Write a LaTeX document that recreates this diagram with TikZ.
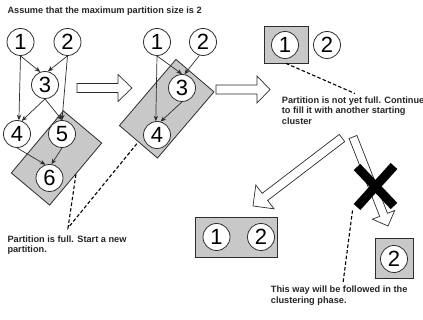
\documentclass[tikz,border=0pt]{standalone}
\usepackage{fontspec}
\setmainfont{Liberation Sans}
\usetikzlibrary{arrows.meta,calc}

\definecolor{boxgrey}{RGB}{200,200,200}
\definecolor{inkgrey}{RGB}{45,45,45}

\tikzset{
  cl/.style={circle, draw=inkgrey, line width=0.8pt, fill=white,
    minimum size=27pt, inner sep=0pt, font=\fontsize{22}{22}\selectfont},
  partbox/.style={draw=inkgrey, fill=boxgrey, line width=0.8pt, inner sep=0pt},
  edge/.style={draw=inkgrey, line width=0.7pt, -{Stealth[length=5.5pt,width=4.5pt]}},
  note/.style={font=\bfseries\fontsize{9.2}{10.3}\selectfont, text=black!85,
    align=left, anchor=north west, inner sep=0pt},
  lead/.style={draw=black, line width=1.1pt, dash pattern=on 3.5pt off 2.2pt},
  harrow/.style={draw=inkgrey, line width=0.7pt, fill=white, line join=miter},
  cross/.style={draw=black, line width=9pt}
}

% hollow block arrow: tail, tip, shaft half width, head half width, head length
\newcommand\blockarrow[5]{%
  \coordinate (ba-base) at ($(#2)!#5!(#1)$);
  \draw[harrow] ($(#1)!#3!90:(#2)$) -- ($(ba-base)!#3!90:(#2)$)
    -- ($(ba-base)!#4!90:(#2)$) -- (#2) -- ($(ba-base)!#4!-90:(#2)$)
    -- ($(ba-base)!#3!-90:(#2)$) -- ($(#1)!#3!-90:(#2)$) -- cycle;
}

\begin{document}
\begin{tikzpicture}[x=1pt, y=-1pt]
\useasboundingbox[fill=white] (0,0) rectangle (423,320);

% title
\node[note, anchor=base west] (title) at (7.3,13.5) {Assume that the maximum partition size is 2};

% ---- first stage: full graph, partition {5,6} ----
\node[partbox, minimum width=50pt, minimum height=81pt, rotate=-40] (pL) at (56.5,158) {};
\node[cl] (L1) at (20.5,42) {1};
\node[cl] (L2) at (67.5,42) {2};
\node[cl] (L3) at (45,85) {3};
\node[cl] (L4) at (17,134) {4};
\node[cl] (L5) at (62,134) {5};
\node[cl] (L6) at (49.5,178) {6};
\draw[edge] (L1.south) -- (L3.110);
\draw[edge] (L2.south) -- (L3.78);
\draw[edge] (L1.south) -- (L4.82);
\draw[edge] (L3.south) -- (L4.70);
\draw[edge] (L2.south) -- (L5.north);
\draw[edge] (L3.south) -- (L5.north);
\draw[edge] (L4.south) -- (L6.107);
\draw[edge] (L5.south) -- (L6.82);

% ---- second stage: remaining graph, partition {3,4} ----
\node[partbox, minimum width=50pt, minimum height=87pt, rotate=-40.5] (pM) at (166.7,108.7) {};
\node[cl] (M1) at (157,42) {1};
\node[cl] (M2) at (203,42) {2};
\node[cl] (M3) at (182,88) {3};
\node[cl] (M4) at (157,135) {4};
\draw[edge] (M1.south) -- (M3.north);
\draw[edge] (M2.255) -- (M3.80);
\draw[edge] (M1.south) -- (M4.95);
\draw[edge] (M3.south) -- (M4.75);

% ---- third stage: partition {1} not yet full ----
\node[partbox, minimum width=44pt, minimum height=37pt] (sq1) at (286,44.5) {};
\node[cl] (R1) at (285,45) {1};
\node[cl] (R2) at (327,45) {2};

% ---- outcomes ----
\node[partbox, minimum width=82pt, minimum height=40pt] (bx) at (236,237) {};
\node[cl] (B1) at (216.5,237) {1};
\node[cl] (B2) at (261,237) {2};

\node[partbox, minimum width=38pt, minimum height=40pt] (by) at (394,258) {};
\node[cl] (C2) at (394,259) {2};

% ---- hollow block arrows ----
\coordinate (a1t) at (77,88);   \coordinate (a1h) at (132,88);
\coordinate (a2t) at (216,89.5); \coordinate (a2h) at (270,89.5);
\coordinate (a3t) at (342,138);  \coordinate (a3h) at (253,206);
\coordinate (a4t) at (353,137);  \coordinate (a4h) at (388,226);
\blockarrow{a1t}{a1h}{4.5pt}{13.5pt}{14pt}
\blockarrow{a2t}{a2h}{4.5pt}{13.5pt}{13pt}
\blockarrow{a3t}{a3h}{4.5pt}{15pt}{15pt}
\blockarrow{a4t}{a4h}{4.2pt}{12pt}{12pt}

% rejected way
\coordinate (x1a) at (357,167); \coordinate (x1b) at (394,206);
\coordinate (x2a) at (394,166); \coordinate (x2b) at (357,207);
\draw[cross] (x1a) -- (x1b);
\draw[cross] (x2a) -- (x2b);

% ---- notes ----
\node[note] (n1) at (281.7,96.6) {Partition is not yet full. Continue\\to fill it with another starting\\cluster};
\node[note] (n2) at (7.3,235.8) {Partition is full. Start a new\\partition.};
\node[note] (n3) at (270.7,286) {This way will be followed in the\\clustering phase.};

\coordinate (q1) at (355,93.5);
\coordinate (q2) at (68,228);
\coordinate (q3) at (343,283);
\coordinate (xe) at (352.5,210.5);
\draw[lead] (sq1.south) -- (q1);
\draw[lead] (pL.east) -- (q2) -- (pM.south);
\draw[lead] (xe) -- (q3);
\end{tikzpicture}
\end{document}
